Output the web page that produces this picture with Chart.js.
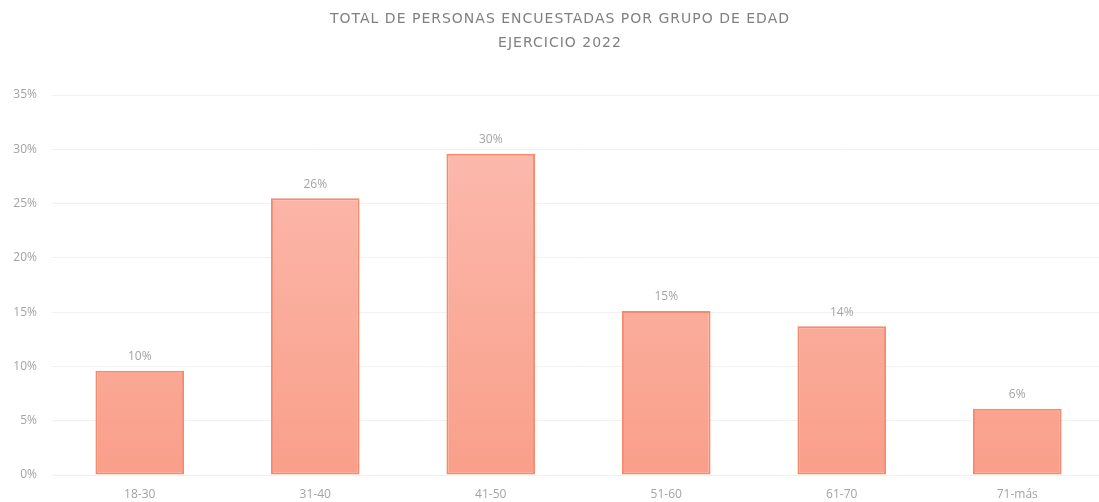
<!DOCTYPE html>
<html>
<head>
<meta charset="utf-8">
<script src="https://cdn.jsdelivr.net/npm/chart.js@4.4.1/dist/chart.umd.min.js"></script>
<style>
  html, body { margin: 0; padding: 0; background: #fff; overflow: hidden; }
  #wrap { width: 1105px; height: 502px; }
</style>
</head>
<body>
<div id="wrap"><canvas id="grafica"></canvas></div>
<script>
const grupos = ["18-30", "31-40", "41-50", "51-60", "61-70", "71-más"];
const porcentajes = [9.6, 25.5, 29.6, 15.1, 13.7, 6.1];
const titulo = ["TOTAL DE PERSONAS ENCUESTADAS POR GRUPO DE EDAD", "EJERCICIO 2022"];

const gris = "#a3a3a3";
const fuente = "'Open Sans', sans-serif";

function degradado(ctx) {
  const area = ctx.chart.chartArea;
  if (!area) return "#f9a896";
  const g = ctx.chart.ctx.createLinearGradient(0, area.top, 0, area.bottom);
  g.addColorStop(0, "#fcbdb2");
  g.addColorStop(1, "#f99f8a");
  return g;
}

// titulo con espaciado entre letras
const encabezado = {
  id: "encabezado",
  afterDraw(chart) {
    const c = chart.ctx;
    c.save();
    c.font = "14px 'DejaVu Sans', sans-serif";
    c.fillStyle = "#808080";
    c.textAlign = "center";
    c.textBaseline = "middle";
    if ("letterSpacing" in c) c.letterSpacing = "1px";
    titulo.forEach((linea, i) => c.fillText(linea, 560, 19 + i * 24));
    c.restore();
  }
};

// etiquetas encima de cada barra
const etiquetas = {
  id: "etiquetas",
  afterDatasetsDraw(chart) {
    const c = chart.ctx;
    const meta = chart.getDatasetMeta(0);
    c.save();
    c.font = "12px " + fuente;
    c.fillStyle = gris;
    c.textAlign = "center";
    c.textBaseline = "bottom";
    meta.data.forEach((bar, i) => {
      c.fillText(Math.round(porcentajes[i]) + "%", bar.x, bar.y - 8);
    });
    c.restore();
  }
};

new Chart(document.getElementById("grafica"), {
  type: "bar",
  data: {
    labels: grupos,
    datasets: [{
      data: porcentajes,
      backgroundColor: degradado,
      borderColor: "#f58a6c",
      borderWidth: 2,
      borderSkipped: false,
      barPercentage: 0.505,
      categoryPercentage: 1
    }]
  },
  options: {
    responsive: true,
    maintainAspectRatio: false,
    animation: false,
    layout: { padding: { left: 0, right: 0, top: 95, bottom: 0 } },
    plugins: {
      legend: { display: false },
      tooltip: { enabled: false },
      title: { display: false }
    },
    scales: {
      x: {
        grid: { display: false },
        border: { display: false },
        ticks: { color: gris, font: { family: fuente, size: 12 }, padding: 4 },
        afterFit(scale) { scale.height = 27; }
      },
      y: {
        min: 0,
        max: 35,
        grid: { color: "#f1f1f1", drawTicks: false },
        border: { display: false },
        ticks: {
          stepSize: 5,
          color: gris,
          font: { family: fuente, size: 12 },
          padding: 15,
          callback: v => v + "%"
        },
        afterFit(scale) { scale.width = 52; }
      }
    }
  },
  plugins: [encabezado, etiquetas]
});
</script>
</body>
</html>
